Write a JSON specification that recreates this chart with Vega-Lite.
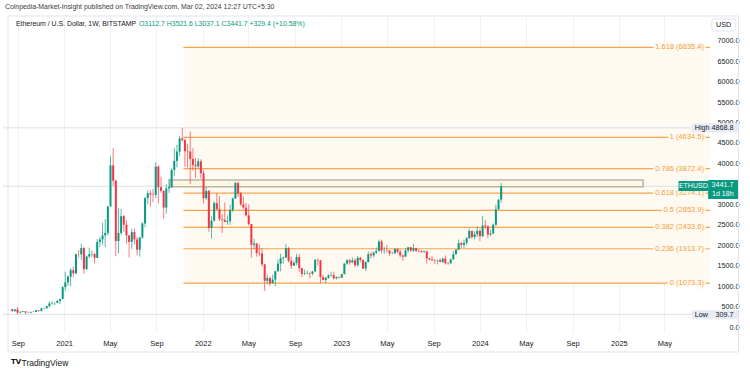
{
  "$schema": "https://vega.github.io/schema/vega-lite/v6.json",
  "width": 712,
  "height": 316,
  "autosize": {"type": "none"},
  "padding": {"left": 3, "top": 17, "right": 35, "bottom": 39},
  "background": "#ffffff",
  "config": {"view": {"stroke": null}, "font": "Liberation Sans", "axisY": {"grid": false, "labelOverlap": false}},
  "title": {
    "text": "Coinpedia-Market-Insight published on TradingView.com, Mar 02, 2024 12:27 UTC+5:30",
    "anchor": "start", "frame": "group", "fontSize": 6.9, "fontWeight": "normal",
    "color": "#3a3a3a", "offset": 5, "dx": 2, "font": "Liberation Sans"
  },
  "datasets": {
    "candles": [
      {"d":"2020-08-17","o":433,"h":443,"l":375,"c":388},
      {"d":"2020-08-24","o":388,"h":440,"l":370,"c":428},
      {"d":"2020-08-31","o":428,"h":488,"l":309.7,"c":353},
      {"d":"2020-09-07","o":353,"h":395,"l":330,"c":365},
      {"d":"2020-09-14","o":365,"h":395,"l":364,"c":385},
      {"d":"2020-09-21","o":385,"h":385,"l":315,"c":355},
      {"d":"2020-09-28","o":355,"h":375,"l":335,"c":353},
      {"d":"2020-10-05","o":353,"h":375,"l":335,"c":370},
      {"d":"2020-10-12","o":370,"h":390,"l":360,"c":367},
      {"d":"2020-10-19","o":367,"h":420,"l":362,"c":409},
      {"d":"2020-10-26","o":409,"h":415,"l":370,"c":396},
      {"d":"2020-11-02","o":396,"h":470,"l":375,"c":455},
      {"d":"2020-11-09","o":455,"h":475,"l":438,"c":460},
      {"d":"2020-11-16","o":460,"h":520,"l":448,"c":510},
      {"d":"2020-11-23","o":510,"h":623,"l":480,"c":575},
      {"d":"2020-11-30","o":575,"h":635,"l":540,"c":585},
      {"d":"2020-12-07","o":585,"h":600,"l":533,"c":590},
      {"d":"2020-12-14","o":590,"h":660,"l":580,"c":640},
      {"d":"2020-12-21","o":640,"h":690,"l":560,"c":685},
      {"d":"2020-12-28","o":685,"h":1000,"l":680,"c":975},
      {"d":"2021-01-04","o":975,"h":1350,"l":890,"c":1090},
      {"d":"2021-01-11","o":1090,"h":1260,"l":1000,"c":1230},
      {"d":"2021-01-18","o":1230,"h":1440,"l":1000,"c":1390},
      {"d":"2021-01-25","o":1390,"h":1475,"l":1215,"c":1310},
      {"d":"2021-02-01","o":1310,"h":1780,"l":1290,"c":1780},
      {"d":"2021-02-08","o":1780,"h":1880,"l":1700,"c":1775},
      {"d":"2021-02-15","o":1775,"h":2040,"l":1640,"c":1930},
      {"d":"2021-02-22","o":1930,"h":1960,"l":1300,"c":1415},
      {"d":"2021-03-01","o":1415,"h":1750,"l":1400,"c":1725},
      {"d":"2021-03-08","o":1725,"h":1940,"l":1680,"c":1780},
      {"d":"2021-03-15","o":1780,"h":1870,"l":1710,"c":1785},
      {"d":"2021-03-22","o":1785,"h":1820,"l":1550,"c":1690},
      {"d":"2021-03-29","o":1690,"h":2150,"l":1690,"c":2080},
      {"d":"2021-04-05","o":2080,"h":2200,"l":1950,"c":2140},
      {"d":"2021-04-12","o":2140,"h":2550,"l":2010,"c":2240},
      {"d":"2021-04-19","o":2240,"h":2640,"l":1950,"c":2300},
      {"d":"2021-04-26","o":2300,"h":2950,"l":2240,"c":2950},
      {"d":"2021-05-03","o":2950,"h":4180,"l":2940,"c":3950},
      {"d":"2021-05-10","o":3950,"h":4370,"l":3450,"c":3580},
      {"d":"2021-05-17","o":3580,"h":3590,"l":1730,"c":2100},
      {"d":"2021-05-24","o":2100,"h":2900,"l":1800,"c":2300},
      {"d":"2021-05-31","o":2300,"h":2890,"l":2250,"c":2710},
      {"d":"2021-06-07","o":2710,"h":2740,"l":2330,"c":2500},
      {"d":"2021-06-14","o":2500,"h":2610,"l":2040,"c":2240},
      {"d":"2021-06-21","o":2240,"h":2240,"l":1700,"c":2080},
      {"d":"2021-06-28","o":2080,"h":2400,"l":1910,"c":2320},
      {"d":"2021-07-05","o":2320,"h":2410,"l":2020,"c":2140},
      {"d":"2021-07-12","o":2140,"h":2200,"l":1750,"c":1890},
      {"d":"2021-07-19","o":1890,"h":2200,"l":1720,"c":2190},
      {"d":"2021-07-26","o":2190,"h":2560,"l":2150,"c":2530},
      {"d":"2021-08-02","o":2530,"h":3180,"l":2440,"c":3150},
      {"d":"2021-08-09","o":3150,"h":3340,"l":3000,"c":3270},
      {"d":"2021-08-16","o":3270,"h":3340,"l":2950,"c":3240},
      {"d":"2021-08-23","o":3240,"h":3375,"l":3050,"c":3230},
      {"d":"2021-08-30","o":3230,"h":4030,"l":3150,"c":3920},
      {"d":"2021-09-06","o":3920,"h":3960,"l":3020,"c":3420},
      {"d":"2021-09-13","o":3420,"h":3680,"l":3280,"c":3330},
      {"d":"2021-09-20","o":3330,"h":3335,"l":2650,"c":2920},
      {"d":"2021-09-27","o":2920,"h":3490,"l":2770,"c":3390},
      {"d":"2021-10-04","o":3390,"h":3630,"l":3280,"c":3420},
      {"d":"2021-10-11","o":3420,"h":3880,"l":3400,"c":3840},
      {"d":"2021-10-18","o":3840,"h":4380,"l":3690,"c":4060},
      {"d":"2021-10-25","o":4060,"h":4460,"l":3900,"c":4290},
      {"d":"2021-11-01","o":4290,"h":4670,"l":4180,"c":4610},
      {"d":"2021-11-08","o":4610,"h":4868.8,"l":4530,"c":4570},
      {"d":"2021-11-15","o":4570,"h":4600,"l":3920,"c":4300},
      {"d":"2021-11-22","o":4300,"h":4480,"l":3900,"c":4290},
      {"d":"2021-11-29","o":4290,"h":4780,"l":3500,"c":4110},
      {"d":"2021-12-06","o":4110,"h":4370,"l":3820,"c":3960},
      {"d":"2021-12-13","o":3960,"h":4130,"l":3640,"c":3930},
      {"d":"2021-12-20","o":3930,"h":4120,"l":3870,"c":4050},
      {"d":"2021-12-27","o":4050,"h":4100,"l":3630,"c":3760},
      {"d":"2022-01-03","o":3760,"h":3840,"l":3020,"c":3150},
      {"d":"2022-01-10","o":3150,"h":3420,"l":3100,"c":3330},
      {"d":"2022-01-17","o":3330,"h":3350,"l":2330,"c":2420},
      {"d":"2022-01-24","o":2420,"h":2710,"l":2160,"c":2600},
      {"d":"2022-01-31","o":2600,"h":3080,"l":2580,"c":3030},
      {"d":"2022-02-07","o":3030,"h":3280,"l":2860,"c":2880},
      {"d":"2022-02-14","o":2880,"h":3200,"l":2590,"c":2640},
      {"d":"2022-02-21","o":2640,"h":2760,"l":2300,"c":2620},
      {"d":"2022-02-28","o":2620,"h":3050,"l":2560,"c":2570},
      {"d":"2022-03-07","o":2570,"h":2730,"l":2500,"c":2590},
      {"d":"2022-03-14","o":2590,"h":2990,"l":2500,"c":2860},
      {"d":"2022-03-21","o":2860,"h":3170,"l":2810,"c":3140},
      {"d":"2022-03-28","o":3140,"h":3550,"l":3140,"c":3520},
      {"d":"2022-04-04","o":3520,"h":3550,"l":3180,"c":3260},
      {"d":"2022-04-11","o":3260,"h":3300,"l":2950,"c":3000},
      {"d":"2022-04-18","o":3000,"h":3190,"l":2880,"c":2920},
      {"d":"2022-04-25","o":2920,"h":3030,"l":2700,"c":2730},
      {"d":"2022-05-02","o":2730,"h":3000,"l":2480,"c":2520},
      {"d":"2022-05-09","o":2520,"h":2520,"l":1700,"c":2010},
      {"d":"2022-05-16","o":2010,"h":2160,"l":1900,"c":2040},
      {"d":"2022-05-23","o":2040,"h":2050,"l":1720,"c":1810},
      {"d":"2022-05-30","o":1810,"h":2020,"l":1730,"c":1800},
      {"d":"2022-06-06","o":1800,"h":1930,"l":1480,"c":1530},
      {"d":"2022-06-13","o":1530,"h":1540,"l":880,"c":1130},
      {"d":"2022-06-20","o":1130,"h":1280,"l":1040,"c":1200},
      {"d":"2022-06-27","o":1200,"h":1230,"l":1000,"c":1070},
      {"d":"2022-07-04","o":1070,"h":1280,"l":1070,"c":1160},
      {"d":"2022-07-11","o":1160,"h":1380,"l":1000,"c":1360},
      {"d":"2022-07-18","o":1360,"h":1650,"l":1360,"c":1550},
      {"d":"2022-07-25","o":1550,"h":1790,"l":1360,"c":1680},
      {"d":"2022-08-01","o":1680,"h":1720,"l":1560,"c":1700},
      {"d":"2022-08-08","o":1700,"h":2030,"l":1680,"c":1930},
      {"d":"2022-08-15","o":1930,"h":1960,"l":1580,"c":1620},
      {"d":"2022-08-22","o":1620,"h":1720,"l":1420,"c":1500},
      {"d":"2022-08-29","o":1500,"h":1620,"l":1490,"c":1570},
      {"d":"2022-09-05","o":1570,"h":1790,"l":1510,"c":1710},
      {"d":"2022-09-12","o":1710,"h":1790,"l":1350,"c":1440},
      {"d":"2022-09-19","o":1440,"h":1440,"l":1220,"c":1300},
      {"d":"2022-09-26","o":1300,"h":1400,"l":1270,"c":1310},
      {"d":"2022-10-03","o":1310,"h":1380,"l":1290,"c":1320},
      {"d":"2022-10-10","o":1320,"h":1340,"l":1190,"c":1305},
      {"d":"2022-10-17","o":1305,"h":1370,"l":1260,"c":1360},
      {"d":"2022-10-24","o":1360,"h":1660,"l":1340,"c":1640},
      {"d":"2022-10-31","o":1640,"h":1680,"l":1500,"c":1630},
      {"d":"2022-11-07","o":1630,"h":1640,"l":1080,"c":1220},
      {"d":"2022-11-14","o":1220,"h":1280,"l":1140,"c":1150},
      {"d":"2022-11-21","o":1150,"h":1230,"l":1070,"c":1200},
      {"d":"2022-11-28","o":1200,"h":1300,"l":1180,"c":1260},
      {"d":"2022-12-05","o":1260,"h":1350,"l":1230,"c":1270},
      {"d":"2022-12-12","o":1270,"h":1350,"l":1160,"c":1190},
      {"d":"2022-12-19","o":1190,"h":1240,"l":1160,"c":1220},
      {"d":"2022-12-26","o":1220,"h":1230,"l":1190,"c":1205},
      {"d":"2023-01-02","o":1205,"h":1290,"l":1200,"c":1290},
      {"d":"2023-01-09","o":1290,"h":1560,"l":1290,"c":1550},
      {"d":"2023-01-16","o":1550,"h":1660,"l":1520,"c":1630},
      {"d":"2023-01-23","o":1630,"h":1670,"l":1520,"c":1580},
      {"d":"2023-01-30","o":1580,"h":1700,"l":1560,"c":1630},
      {"d":"2023-02-06","o":1630,"h":1680,"l":1460,"c":1510},
      {"d":"2023-02-13","o":1510,"h":1740,"l":1480,"c":1690},
      {"d":"2023-02-20","o":1690,"h":1720,"l":1580,"c":1640},
      {"d":"2023-02-27","o":1640,"h":1650,"l":1420,"c":1430},
      {"d":"2023-03-06","o":1430,"h":1600,"l":1370,"c":1590},
      {"d":"2023-03-13","o":1590,"h":1850,"l":1580,"c":1780},
      {"d":"2023-03-20","o":1780,"h":1840,"l":1680,"c":1750},
      {"d":"2023-03-27","o":1750,"h":1840,"l":1700,"c":1820},
      {"d":"2023-04-03","o":1820,"h":1950,"l":1780,"c":1860},
      {"d":"2023-04-10","o":1860,"h":2140,"l":1850,"c":2090},
      {"d":"2023-04-17","o":2090,"h":2130,"l":1800,"c":1870},
      {"d":"2023-04-24","o":1870,"h":1960,"l":1790,"c":1875},
      {"d":"2023-05-01","o":1875,"h":2000,"l":1820,"c":1870},
      {"d":"2023-05-08","o":1870,"h":1880,"l":1740,"c":1800},
      {"d":"2023-05-15","o":1800,"h":1840,"l":1780,"c":1805},
      {"d":"2023-05-22","o":1805,"h":1920,"l":1780,"c":1910},
      {"d":"2023-05-29","o":1910,"h":1920,"l":1800,"c":1840},
      {"d":"2023-06-05","o":1840,"h":1890,"l":1700,"c":1750},
      {"d":"2023-06-12","o":1750,"h":1770,"l":1620,"c":1720},
      {"d":"2023-06-19","o":1720,"h":1930,"l":1720,"c":1870},
      {"d":"2023-06-26","o":1870,"h":1960,"l":1820,"c":1950},
      {"d":"2023-07-03","o":1950,"h":1960,"l":1840,"c":1870},
      {"d":"2023-07-10","o":1870,"h":2030,"l":1830,"c":1930},
      {"d":"2023-07-17","o":1930,"h":1940,"l":1840,"c":1860},
      {"d":"2023-07-24","o":1860,"h":1900,"l":1830,"c":1855},
      {"d":"2023-07-31","o":1855,"h":1870,"l":1820,"c":1830},
      {"d":"2023-08-07","o":1830,"h":1870,"l":1820,"c":1850},
      {"d":"2023-08-14","o":1850,"h":1850,"l":1550,"c":1680},
      {"d":"2023-08-21","o":1680,"h":1690,"l":1640,"c":1650},
      {"d":"2023-08-28","o":1650,"h":1740,"l":1610,"c":1630},
      {"d":"2023-09-04","o":1630,"h":1660,"l":1540,"c":1620},
      {"d":"2023-09-11","o":1620,"h":1650,"l":1530,"c":1630},
      {"d":"2023-09-18","o":1630,"h":1680,"l":1580,"c":1590},
      {"d":"2023-09-25","o":1590,"h":1700,"l":1570,"c":1670},
      {"d":"2023-10-02","o":1670,"h":1750,"l":1530,"c":1560},
      {"d":"2023-10-09","o":1560,"h":1590,"l":1520,"c":1555},
      {"d":"2023-10-16","o":1555,"h":1680,"l":1550,"c":1650},
      {"d":"2023-10-23","o":1650,"h":1860,"l":1650,"c":1780},
      {"d":"2023-10-30","o":1780,"h":1910,"l":1770,"c":1890},
      {"d":"2023-11-06","o":1890,"h":2140,"l":1880,"c":2050},
      {"d":"2023-11-13","o":2050,"h":2080,"l":1930,"c":2010},
      {"d":"2023-11-20","o":2010,"h":2130,"l":1930,"c":2060},
      {"d":"2023-11-27","o":2060,"h":2200,"l":2000,"c":2170},
      {"d":"2023-12-04","o":2170,"h":2410,"l":2160,"c":2350},
      {"d":"2023-12-11","o":2350,"h":2350,"l":2150,"c":2200},
      {"d":"2023-12-18","o":2200,"h":2340,"l":2140,"c":2270},
      {"d":"2023-12-25","o":2270,"h":2460,"l":2200,"c":2350},
      {"d":"2024-01-01","o":2350,"h":2400,"l":2100,"c":2220},
      {"d":"2024-01-08","o":2220,"h":2720,"l":2200,"c":2480},
      {"d":"2024-01-15","o":2480,"h":2620,"l":2400,"c":2460},
      {"d":"2024-01-22","o":2460,"h":2490,"l":2170,"c":2260},
      {"d":"2024-01-29","o":2260,"h":2380,"l":2220,"c":2290},
      {"d":"2024-02-05","o":2290,"h":2530,"l":2270,"c":2500},
      {"d":"2024-02-12","o":2500,"h":2990,"l":2470,"c":2880},
      {"d":"2024-02-19","o":2880,"h":3130,"l":2860,"c":3112.7},
      {"d":"2024-02-26","o":3112.7,"h":3521.6,"l":3037.1,"c":3441.7}
    ],
    "fib": [
      {"ratio":"1.618","price":6835.4,"label":"1.618 (6835.4)"},
      {"ratio":"1","price":4634.5,"label":"1 (4634.5)"},
      {"ratio":"0.786","price":3872.4,"label":"0.786 (3872.4)"},
      {"ratio":"0.618","price":3274.1,"label":"0.618 (3274.1)"},
      {"ratio":"0.5","price":2853.9,"label":"0.5 (2853.9)"},
      {"ratio":"0.382","price":2433.6,"label":"0.382 (2433.6)"},
      {"ratio":"0.236","price":1913.7,"label":"0.236 (1913.7)"},
      {"ratio":"0","price":1073.3,"label":"0 (1073.3)"}
    ],
    "marks": [
      {"name":"High","price":4868.8},
      {"name":"Current","price":3441.7},
      {"name":"Low","price":309.7}
    ]
  },
  "layer": [
    {
      "data": {"name": "candles"},
      "mark": {"type": "rule", "strokeWidth": 0, "opacity": 0},
      "encoding": {
        "x": {
          "field": "d", "type": "temporal",
          "scale": {"type": "utc", "domain": [{"year":2020,"month":8,"date":6,"utc":true},{"year":2025,"month":8,"date":29,"utc":true}]},
          "axis": {
            "orient": "bottom",
            "values": [
              {"year":2020,"month":9,"date":1,"utc":true},
              {"year":2021,"month":1,"date":1,"utc":true},
              {"year":2021,"month":5,"date":1,"utc":true},
              {"year":2021,"month":9,"date":1,"utc":true},
              {"year":2022,"month":1,"date":1,"utc":true},
              {"year":2022,"month":5,"date":1,"utc":true},
              {"year":2022,"month":9,"date":1,"utc":true},
              {"year":2023,"month":1,"date":1,"utc":true},
              {"year":2023,"month":5,"date":1,"utc":true},
              {"year":2023,"month":9,"date":1,"utc":true},
              {"year":2024,"month":1,"date":1,"utc":true},
              {"year":2024,"month":5,"date":1,"utc":true},
              {"year":2024,"month":9,"date":1,"utc":true},
              {"year":2025,"month":1,"date":1,"utc":true},
              {"year":2025,"month":5,"date":1,"utc":true}
            ],
            "labelExpr": "utcmonth(datum.value) == 0 ? utcFormat(datum.value, '%Y') : utcFormat(datum.value, '%b')",
            "labelFontSize": 7.5, "labelColor": "#131722", "labelFont": "Liberation Sans",
            "labelPadding": 6, "tickSize": 0, "domain": false,
            "grid": true, "gridColor": "#EEF1F7", "gridWidth": 1,
            "labelOverlap": false,
            "title": "TradingView", "titleFont": "Liberation Sans", "titleFontSize": 8.5,
            "titleFontWeight": "normal", "titleColor": "#131722",
            "titleAnchor": "start", "titleAlign": "left", "titleBaseline": "middle",
            "titleX": 18, "titleY": 29
          }
        },
        "y": {
          "field": "l", "type": "quantitative",
          "scale": {"domain": [-146.7, 7579.5], "nice": false, "zero": false},
          "axis": {"orient": "right", "values": [0,500,1000,1500,2000,2500,3000,4000,4500,5000,5500,6000,6500,7000], "format": ".1f", "labelAlign": "right", "labelPadding": 24, "labelOverlap": false, "labelFontSize": 7.2, "labelColor": "#131722", "labelFont": "Liberation Sans", "tickSize": 0, "domain": false, "grid": false, "title": null}
        }
      }
    },
    {
      "data": {"values": [{}]},
      "mark": {"type": "rect", "fill": "#FFFAF1"},
      "encoding": {
        "x": {"datum": {"year":2021,"month":11,"date":11,"utc":true}, "type": "temporal"},
        "x2": {"datum": {"year":2025,"month":8,"date":29,"utc":true}},
        "y": {"datum": 1073.3, "type": "quantitative", "axis": {"orient": "right", "values": [0,500,1000,1500,2000,2500,3000,4000,4500,5000,5500,6000,6500,7000], "format": ".1f", "labelAlign": "right", "labelPadding": 24, "labelOverlap": false, "labelFontSize": 7.2, "labelColor": "#131722", "labelFont": "Liberation Sans", "tickSize": 0, "domain": false, "grid": false, "title": null}},
        "y2": {"datum": 6835.4}
      }
    },
    {
      "data": {"name": "marks"},
      "mark": {"type": "rule", "color": "#DCDFE6", "strokeWidth": 1},
      "encoding": {
        "y": {"field": "price", "type": "quantitative", "axis": {"orient": "right", "values": [0,500,1000,1500,2000,2500,3000,4000,4500,5000,5500,6000,6500,7000], "format": ".1f", "labelAlign": "right", "labelPadding": 24, "labelOverlap": false, "labelFontSize": 7.2, "labelColor": "#131722", "labelFont": "Liberation Sans", "tickSize": 0, "domain": false, "grid": false, "title": null}}
      }
    },
    {
      "data": {"values": [{}]},
      "mark": {"type": "rect", "fill": "#FFF8DC", "stroke": "#B5B5B5", "strokeWidth": 1.5},
      "encoding": {
        "x": {"datum": {"year":2021,"month":10,"date":6,"utc":true}, "type": "temporal"},
        "x2": {"datum": {"year":2025,"month":3,"date":6,"utc":true}},
        "y": {"datum": 3430, "type": "quantitative", "axis": {"orient": "right", "values": [0,500,1000,1500,2000,2500,3000,4000,4500,5000,5500,6000,6500,7000], "format": ".1f", "labelAlign": "right", "labelPadding": 24, "labelOverlap": false, "labelFontSize": 7.2, "labelColor": "#131722", "labelFont": "Liberation Sans", "tickSize": 0, "domain": false, "grid": false, "title": null}},
        "y2": {"datum": 3594}
      }
    },
    {
      "data": {"name": "fib"},
      "mark": {"type": "rule", "color": "#F9A54C", "strokeWidth": 1.2},
      "encoding": {
        "x": {"datum": {"year":2021,"month":11,"date":11,"utc":true}, "type": "temporal"},
        "x2": {"datum": {"year":2025,"month":8,"date":29,"utc":true}},
        "y": {"field": "price", "type": "quantitative", "axis": {"orient": "right", "values": [0,500,1000,1500,2000,2500,3000,4000,4500,5000,5500,6000,6500,7000], "format": ".1f", "labelAlign": "right", "labelPadding": 24, "labelOverlap": false, "labelFontSize": 7.2, "labelColor": "#131722", "labelFont": "Liberation Sans", "tickSize": 0, "domain": false, "grid": false, "title": null}}
      }
    },
    {
      "data": {"name": "candles"},
      "mark": {"type": "rule", "strokeWidth": 0.9, "opacity": 0.75},
      "encoding": {
        "x": {"field": "d", "type": "temporal"},
        "y": {"field": "l", "type": "quantitative", "axis": {"orient": "right", "values": [0,500,1000,1500,2000,2500,3000,4000,4500,5000,5500,6000,6500,7000], "format": ".1f", "labelAlign": "right", "labelPadding": 24, "labelOverlap": false, "labelFontSize": 7.2, "labelColor": "#131722", "labelFont": "Liberation Sans", "tickSize": 0, "domain": false, "grid": false, "title": null}},
        "y2": {"field": "h"},
        "color": {"condition": {"test": "datum.c >= datum.o", "value": "#089981"}, "value": "#F23645"}
      }
    },
    {
      "data": {"name": "candles"},
      "mark": {"type": "bar", "size": 2, "orient": "vertical"},
      "encoding": {
        "x": {"field": "d", "type": "temporal"},
        "y": {"field": "o", "type": "quantitative", "axis": {"orient": "right", "values": [0,500,1000,1500,2000,2500,3000,4000,4500,5000,5500,6000,6500,7000], "format": ".1f", "labelAlign": "right", "labelPadding": 24, "labelOverlap": false, "labelFontSize": 7.2, "labelColor": "#131722", "labelFont": "Liberation Sans", "tickSize": 0, "domain": false, "grid": false, "title": null}},
        "y2": {"field": "c"},
        "color": {"condition": {"test": "datum.c >= datum.o", "value": "#089981"}, "value": "#F23645"}
      }
    },
    {
      "data": {"name": "fib"},
      "mark": {"type": "text", "align": "right", "baseline": "middle", "dx": -6, "fontSize": 7.5, "font": "Liberation Sans", "fill": "#FFFAF1", "stroke": "#FFFAF1", "strokeWidth": 4},
      "encoding": {
        "x": {"datum": {"year":2025,"month":8,"date":29,"utc":true}, "type": "temporal"},
        "y": {"field": "price", "type": "quantitative", "axis": {"orient": "right", "values": [0,500,1000,1500,2000,2500,3000,4000,4500,5000,5500,6000,6500,7000], "format": ".1f", "labelAlign": "right", "labelPadding": 24, "labelOverlap": false, "labelFontSize": 7.2, "labelColor": "#131722", "labelFont": "Liberation Sans", "tickSize": 0, "domain": false, "grid": false, "title": null}},
        "text": {"field": "label"}
      }
    },
    {
      "data": {"name": "fib"},
      "mark": {"type": "text", "align": "right", "baseline": "middle", "dx": -6, "fontSize": 7.5, "font": "Liberation Sans", "color": "#F59D3D"},
      "encoding": {
        "x": {"datum": {"year":2025,"month":8,"date":29,"utc":true}, "type": "temporal"},
        "y": {"field": "price", "type": "quantitative", "axis": {"orient": "right", "values": [0,500,1000,1500,2000,2500,3000,4000,4500,5000,5500,6000,6500,7000], "format": ".1f", "labelAlign": "right", "labelPadding": 24, "labelOverlap": false, "labelFontSize": 7.2, "labelColor": "#131722", "labelFont": "Liberation Sans", "tickSize": 0, "domain": false, "grid": false, "title": null}},
        "text": {"field": "label"}
      }
    },
    {
      "data": {"values": [{"t": "High", "p": 4868.8, "lo": 4758, "hi": 4980}, {"t": "Low", "p": 309.7, "lo": 190, "hi": 412}]},
      "layer": [
        {
          "mark": {"type": "rect", "fill": "#E6EBF4"},
          "encoding": {
            "x": {"datum": {"year":2025,"month":7,"date":12,"utc":true}, "type": "temporal"},
            "x2": {"datum": {"year":2025,"month":11,"date":12,"utc":true}},
            "y": {"field": "lo", "type": "quantitative", "axis": {"orient": "right", "values": [0,500,1000,1500,2000,2500,3000,4000,4500,5000,5500,6000,6500,7000], "format": ".1f", "labelAlign": "right", "labelPadding": 24, "labelOverlap": false, "labelFontSize": 7.2, "labelColor": "#131722", "labelFont": "Liberation Sans", "tickSize": 0, "domain": false, "grid": false, "title": null}},
            "y2": {"field": "hi"}
          }
        },
        {
          "mark": {"type": "text", "align": "left", "baseline": "middle", "dy": 0.5, "fontSize": 7.2, "font": "Liberation Sans", "color": "#131722"},
          "encoding": {
            "x": {"datum": {"year":2025,"month":7,"date":20,"utc":true}, "type": "temporal"},
            "y": {"field": "p", "type": "quantitative", "axis": {"orient": "right", "values": [0,500,1000,1500,2000,2500,3000,4000,4500,5000,5500,6000,6500,7000], "format": ".1f", "labelAlign": "right", "labelPadding": 24, "labelOverlap": false, "labelFontSize": 7.2, "labelColor": "#131722", "labelFont": "Liberation Sans", "tickSize": 0, "domain": false, "grid": false, "title": null}},
            "text": {"field": "t"}
          }
        },
        {
          "mark": {"type": "text", "align": "right", "baseline": "middle", "dy": 0.5, "fontSize": 7.2, "font": "Liberation Sans", "color": "#131722"},
          "encoding": {
            "x": {"datum": {"year":2025,"month":10,"date":30,"utc":true}, "type": "temporal"},
            "y": {"field": "p", "type": "quantitative", "axis": {"orient": "right", "values": [0,500,1000,1500,2000,2500,3000,4000,4500,5000,5500,6000,6500,7000], "format": ".1f", "labelAlign": "right", "labelPadding": 24, "labelOverlap": false, "labelFontSize": 7.2, "labelColor": "#131722", "labelFont": "Liberation Sans", "tickSize": 0, "domain": false, "grid": false, "title": null}},
            "text": {"field": "p", "format": ".1f"}
          }
        }
      ]
    },
    {
      "data": {"values": [{}]},
      "layer": [
        {
          "mark": {"type": "rect", "fill": "#089981"},
          "encoding": {
            "x": {"datum": {"year":2025,"month":6,"date":7,"utc":true}, "type": "temporal"},
            "x2": {"datum": {"year":2025,"month":8,"date":24,"utc":true}},
            "y": {"datum": 3325, "type": "quantitative", "axis": {"orient": "right", "values": [0,500,1000,1500,2000,2500,3000,4000,4500,5000,5500,6000,6500,7000], "format": ".1f", "labelAlign": "right", "labelPadding": 24, "labelOverlap": false, "labelFontSize": 7.2, "labelColor": "#131722", "labelFont": "Liberation Sans", "tickSize": 0, "domain": false, "grid": false, "title": null}},
            "y2": {"datum": 3570}
          }
        },
        {
          "mark": {"type": "rect", "fill": "#089981"},
          "encoding": {
            "x": {"datum": {"year":2025,"month":8,"date":24,"utc":true}, "type": "temporal"},
            "x2": {"datum": {"year":2025,"month":11,"date":12,"utc":true}},
            "y": {"datum": 3130, "type": "quantitative", "axis": {"orient": "right", "values": [0,500,1000,1500,2000,2500,3000,4000,4500,5000,5500,6000,6500,7000], "format": ".1f", "labelAlign": "right", "labelPadding": 24, "labelOverlap": false, "labelFontSize": 7.2, "labelColor": "#131722", "labelFont": "Liberation Sans", "tickSize": 0, "domain": false, "grid": false, "title": null}},
            "y2": {"datum": 3594}
          }
        },
        {
          "mark": {"type": "text", "align": "center", "baseline": "middle", "fontSize": 7, "font": "Liberation Sans", "color": "#ffffff", "text": "ETHUSD"},
          "encoding": {
            "x": {"datum": {"year":2025,"month":7,"date":16,"utc":true}, "type": "temporal"},
            "y": {"datum": 3447, "type": "quantitative", "axis": {"orient": "right", "values": [0,500,1000,1500,2000,2500,3000,4000,4500,5000,5500,6000,6500,7000], "format": ".1f", "labelAlign": "right", "labelPadding": 24, "labelOverlap": false, "labelFontSize": 7.2, "labelColor": "#131722", "labelFont": "Liberation Sans", "tickSize": 0, "domain": false, "grid": false, "title": null}}
          }
        },
        {
          "mark": {"type": "text", "align": "right", "baseline": "middle", "fontSize": 7.2, "font": "Liberation Sans", "color": "#ffffff", "text": "3441.7"},
          "encoding": {
            "x": {"datum": {"year":2025,"month":10,"date":30,"utc":true}, "type": "temporal"},
            "y": {"datum": 3484, "type": "quantitative", "axis": {"orient": "right", "values": [0,500,1000,1500,2000,2500,3000,4000,4500,5000,5500,6000,6500,7000], "format": ".1f", "labelAlign": "right", "labelPadding": 24, "labelOverlap": false, "labelFontSize": 7.2, "labelColor": "#131722", "labelFont": "Liberation Sans", "tickSize": 0, "domain": false, "grid": false, "title": null}}
          }
        },
        {
          "mark": {"type": "text", "align": "right", "baseline": "middle", "fontSize": 7, "font": "Liberation Sans", "color": "#ffffff", "text": "1d 18h"},
          "encoding": {
            "x": {"datum": {"year":2025,"month":10,"date":30,"utc":true}, "type": "temporal"},
            "y": {"datum": 3252, "type": "quantitative", "axis": {"orient": "right", "values": [0,500,1000,1500,2000,2500,3000,4000,4500,5000,5500,6000,6500,7000], "format": ".1f", "labelAlign": "right", "labelPadding": 24, "labelOverlap": false, "labelFontSize": 7.2, "labelColor": "#131722", "labelFont": "Liberation Sans", "tickSize": 0, "domain": false, "grid": false, "title": null}}
          }
        },
        {
          "mark": {"type": "rect", "fill": "#ffffff", "stroke": "#E0E3EB", "strokeWidth": 1, "cornerRadius": 2},
          "encoding": {
            "x": {"datum": {"year":2025,"month":9,"date":3,"utc":true}, "type": "temporal"},
            "x2": {"datum": {"year":2025,"month":11,"date":5,"utc":true}},
            "y": {"datum": 7237, "type": "quantitative", "axis": {"orient": "right", "values": [0,500,1000,1500,2000,2500,3000,4000,4500,5000,5500,6000,6500,7000], "format": ".1f", "labelAlign": "right", "labelPadding": 24, "labelOverlap": false, "labelFontSize": 7.2, "labelColor": "#131722", "labelFont": "Liberation Sans", "tickSize": 0, "domain": false, "grid": false, "title": null}},
            "y2": {"datum": 7531}
          }
        },
        {
          "mark": {"type": "text", "align": "center", "baseline": "middle", "fontSize": 7.2, "font": "Liberation Sans", "color": "#131722", "text": "USD"},
          "encoding": {
            "x": {"datum": {"year":2025,"month":10,"date":4,"utc":true}, "type": "temporal"},
            "y": {"datum": 7384, "type": "quantitative", "axis": {"orient": "right", "values": [0,500,1000,1500,2000,2500,3000,4000,4500,5000,5500,6000,6500,7000], "format": ".1f", "labelAlign": "right", "labelPadding": 24, "labelOverlap": false, "labelFontSize": 7.2, "labelColor": "#131722", "labelFont": "Liberation Sans", "tickSize": 0, "domain": false, "grid": false, "title": null}}
          }
        },
        {
          "mark": {"type": "text", "align": "left", "baseline": "middle", "fontSize": 6.9, "font": "Liberation Sans", "color": "#131722", "text": "Ethereum / U.S. Dollar, 1W, BITSTAMP"},
          "encoding": {
            "x": {"datum": {"year":2020,"month":8,"date":27,"utc":true}, "type": "temporal"},
            "y": {"datum": 7408, "type": "quantitative", "axis": {"orient": "right", "values": [0,500,1000,1500,2000,2500,3000,4000,4500,5000,5500,6000,6500,7000], "format": ".1f", "labelAlign": "right", "labelPadding": 24, "labelOverlap": false, "labelFontSize": 7.2, "labelColor": "#131722", "labelFont": "Liberation Sans", "tickSize": 0, "domain": false, "grid": false, "title": null}}
          }
        },
        {
          "mark": {"type": "text", "align": "left", "baseline": "middle", "fontSize": 6.9, "font": "Liberation Sans", "color": "#089981", "text": "O3112.7  H3521.6  L3037.1  C3441.7  +329.4 (+10.58%)"},
          "encoding": {
            "x": {"datum": {"year":2021,"month":7,"date":17,"utc":true}, "type": "temporal"},
            "y": {"datum": 7408, "type": "quantitative", "axis": {"orient": "right", "values": [0,500,1000,1500,2000,2500,3000,4000,4500,5000,5500,6000,6500,7000], "format": ".1f", "labelAlign": "right", "labelPadding": 24, "labelOverlap": false, "labelFontSize": 7.2, "labelColor": "#131722", "labelFont": "Liberation Sans", "tickSize": 0, "domain": false, "grid": false, "title": null}}
          }
        },
        {
          "mark": {"type": "text", "align": "left", "baseline": "middle", "fontSize": 7, "font": "DejaVu Sans", "fontWeight": "bold", "color": "#131722", "text": "TV"},
          "encoding": {
            "x": {"datum": {"year":2020,"month":8,"date":14,"utc":true}, "type": "temporal"},
            "y": {"datum": -856, "type": "quantitative", "axis": {"orient": "right", "values": [0,500,1000,1500,2000,2500,3000,4000,4500,5000,5500,6000,6500,7000], "format": ".1f", "labelAlign": "right", "labelPadding": 24, "labelOverlap": false, "labelFontSize": 7.2, "labelColor": "#131722", "labelFont": "Liberation Sans", "tickSize": 0, "domain": false, "grid": false, "title": null}}
          }
        },
        {
          "mark": {"type": "rect", "fill": null, "stroke": "#E0E3EB", "strokeWidth": 1},
          "encoding": {
            "x": {"datum": {"year":2020,"month":8,"date":6,"utc":true}, "type": "temporal"},
            "x2": {"datum": {"year":2025,"month":11,"date":12,"utc":true}},
            "y": {"datum": -611, "type": "quantitative", "axis": {"orient": "right", "values": [0,500,1000,1500,2000,2500,3000,4000,4500,5000,5500,6000,6500,7000], "format": ".1f", "labelAlign": "right", "labelPadding": 24, "labelOverlap": false, "labelFontSize": 7.2, "labelColor": "#131722", "labelFont": "Liberation Sans", "tickSize": 0, "domain": false, "grid": false, "title": null}},
            "y2": {"datum": 7604}
          }
        }
      ]
    }
  ]
}
